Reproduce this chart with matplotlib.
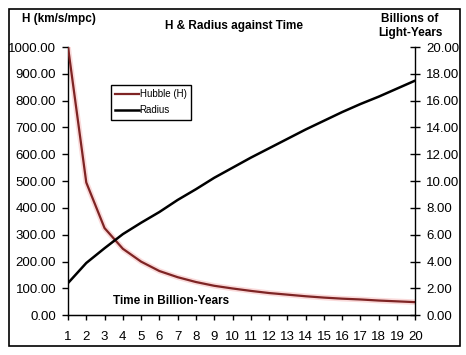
import matplotlib
matplotlib.use("Agg")
import matplotlib.pyplot as plt
from matplotlib.patches import Rectangle
from matplotlib.lines import Line2D

# data
years = list(range(1, 21))
hubble = [1000, 495, 325, 248, 200, 165, 142, 124, 110, 100,
          91, 83, 77, 71, 66, 62, 59, 55, 52, 49]
radius = [2.4, 3.9, 5.0, 6.05, 6.9, 7.7, 8.6, 9.4, 10.25, 11.0,
          11.75, 12.45, 13.15, 13.85, 14.5, 15.15, 15.75, 16.3, 16.9, 17.5]
h_ticks = [0, 100, 200, 300, 400, 500, 600, 700, 800, 900, 1000]
r_ticks = [0, 2, 4, 6, 8, 10, 12, 14, 16, 18, 20]

W, H = 466, 355
plt.rcParams['font.family'] = ['Liberation Sans', 'DejaVu Sans']

fig = plt.figure(figsize=(W / 100, H / 100), dpi=100)
fig.patch.set_facecolor('white')
ax = fig.add_axes([68 / W, 1 - 315.3 / H, (415.3 - 68) / W, (315.3 - 47) / H])
ax2 = ax.twinx()

red = '#7e2424'
# faint pink halo under the Hubble line
ax.plot(years, hubble, color='#fadada', lw=4, zorder=2)
ax.plot(years, hubble, color=red, lw=1.6, zorder=3)
ax2.plot(years, radius, color='black', lw=1.8, zorder=3)

ax.set_xlim(1, 20)
ax.set_ylim(0, 1000)
ax2.set_ylim(0, 20)
ax.set_xticks(years)
ax.set_yticks(h_ticks)
ax.set_yticklabels(['%.2f' % v for v in h_ticks])
ax2.set_yticks(r_ticks)
ax2.set_yticklabels(['%.2f' % v for v in r_ticks])

for a in (ax, ax2):
    a.spines['top'].set_visible(False)
    a.patch.set_visible(False)
ax.spines['right'].set_visible(False)
ax2.spines['left'].set_visible(False)
for s in ('left', 'bottom'):
    ax.spines[s].set_linewidth(1.0)
ax2.spines['right'].set_linewidth(1.0)

ax.tick_params(axis='y', direction='out', length=4, width=1, pad=4.5, labelsize=9.5)
ax.tick_params(axis='x', direction='out', length=3.5, width=1, pad=8, labelsize=9.5)
ax2.tick_params(axis='y', direction='inout', length=7, width=1, pad=4.5, labelsize=9.5)

# texts
fig.text(234 / W, 1 - 26 / H, 'H & Radius against Time', ha='center', va='center',
         fontsize=8.5, fontweight='bold')
fig.text(22 / W, 1 - 19 / H, 'H (km/s/mpc)', ha='left', va='center',
         fontsize=8.5, fontweight='bold')
fig.text(410 / W, 1 - 26 / H, 'Billions of\nLight-Years', ha='center', va='center',
         fontsize=8.5, fontweight='bold', linespacing=1.2)
fig.text(171 / W, 1 - 301 / H, 'Time in Billion-Years', ha='center', va='center',
         fontsize=8.5, fontweight='bold')

handles = [Line2D([], [], color=red, lw=1.6), Line2D([], [], color='black', lw=1.8)]
leg = fig.legend(handles, ['Hubble (H)', 'Radius'], loc='upper left',
                 bbox_to_anchor=(111 / W, 1 - 85 / H), fontsize=7,
                 frameon=True, fancybox=False, framealpha=1, edgecolor='black',
                 handlelength=2.4, handletextpad=0.1, borderpad=0.45,
                 labelspacing=0.6, borderaxespad=0)
leg.get_frame().set_linewidth(1.0)

# outer border of the chart area
fig.patches.append(Rectangle((9 / W, 1 - 346 / H), 451 / W, 337 / H,
                             transform=fig.transFigure, fill=False,
                             edgecolor='black', lw=1.2))

fig.savefig('out.png', dpi=100)
